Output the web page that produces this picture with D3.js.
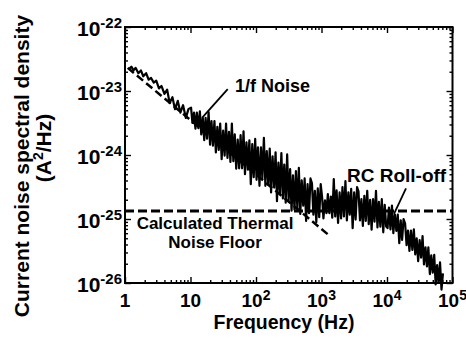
<!DOCTYPE html>
<html><head><meta charset="utf-8">
<script src="https://cdn.jsdelivr.net/npm/d3@7"></script>
<style>
body{margin:0;background:#fff}
svg{display:block}
text{font-family:"Liberation Sans",Arial,Helvetica,sans-serif;font-weight:bold;fill:#000}
</style>
</head><body>
<svg id="c" width="466" height="341"></svg>
<script>
// ---------- data ----------
const freq = [
  1.15,1.25,1.35,1.45,1.6,1.75,1.9,2.1,2.3,2.5,2.75,3.0,3.3,3.6,4.0,4.4,4.8,5.3,5.8,6.4,7.0,7.7,8.5,9.3,
  10.2,10.7,11.3,11.9,12.5,13.2,13.9,14.6,15.4,16.2,17.0,17.9,18.9,19.9,20.9,22.0,23.2,24.4,25.7,27.0,28.4,29.9,31.5,33.2,34.9,36.7,38.7,40.7,42.8,45.1,47.4,49.9,52.6,55.3,58.2,61.3,64.5,67.9,71.5,75.2,79.2,83.3,87.7,92.3,97.2,
  102,107,113,119,125,132,139,146,154,162,170,179,189,199,209,220,232,244,257,270,284,299,315,332,349,367,387,407,428,451,474,499,526,553,582,613,645,679,715,752,792,833,877,923,972,
  1020,1070,1130,1190,1250,1320,1390,1460,1540,1620,1700,1790,1890,1990,2090,2200,2320,2440,2570,2700,2840,2990,3150,3320,3490,3670,3870,4070,4280,4510,4740,4990,5260,5530,5820,6130,6450,6790,7150,7520,7920,8330,8770,9230,9720,
  10200,10700,11300,11900,12500,13200,13900,14600,15400,16200,17000,17900,18900,19900,20900,22000,23200,24400,25700,27000,28400,29900,31500,33200,34900,36700,38700,40700,42800,45100,47400,49900,52600,55300,58200,61300,64500,67900,71500
];
const psd = [
  2.2e-23,2.4e-23,2.1e-23,2.3e-23,1.9e-23,2.1e-23,1.7e-23,1.9e-23,1.5e-23,1.6e-23,1.35e-23,1.45e-23,1.1e-23,1.2e-23,9.0e-24,1.05e-23,6.5e-24,8.0e-24,5.2e-24,7.0e-24,4.6e-24,6.0e-24,3.8e-24,5.2e-24,
  5.5e-24,3.16e-24,4.6e-24,2.57e-24,4.6e-24,2.63e-24,4.8e-24,2.1e-24,3.8e-24,1.7e-24,3.8e-24,1.8e-24,4.7e-24,1.45e-24,3.4e-24,1.4e-24,3.4e-24,1.1e-24,2.75e-24,1.2e-24,3.1e-24,8.6e-25,2.4e-24,9.8e-25,3.1e-24,9.0e-25,2.3e-24,7.8e-25,3.1e-24,8.0e-25,2.1e-24,6.1e-25,1.74e-24,6.2e-25,2.04e-24,6.2e-25,2.34e-24,5.0e-25,1.58e-24,5.9e-25,1.7e-24,3.5e-25,1.48e-24,4.5e-25,1.78e-24,
  4.1e-25,1.32e-24,3.3e-25,1.32e-24,4.3e-25,1.86e-24,3.3e-25,1.15e-24,3.4e-25,1.26e-24,2.6e-25,9.5e-25,3.1e-25,1.1e-24,1.9e-25,7.6e-25,2.5e-25,1.07e-24,2.1e-25,7.1e-25,1.8e-25,1.02e-24,1.9e-25,6.0e-25,1.35e-25,4.8e-25,1.4e-25,5.6e-25,1.45e-25,6.3e-25,1.2e-25,4.0e-25,1.62e-25,4.3e-25,9.3e-26,3.5e-25,1.23e-25,4.3e-25,3.6e-25,1.17e-25,2.75e-25,8.9e-26,3.0e-25,1.07e-25,3.5e-25,
  2.24e-25,1.02e-25,1.95e-25,1.23e-25,2.45e-25,1.23e-25,2.24e-25,1.05e-25,4.2e-25,1.1e-25,2.8e-25,8.7e-26,2.6e-25,1.02e-25,3.16e-25,1.1e-25,3.9e-25,9.5e-26,2.6e-25,1.17e-25,2.95e-25,7.2e-26,2.6e-25,9.8e-26,3.16e-25,2.7e-25,9.5e-26,2.04e-25,7.8e-26,2.3e-25,9.3e-26,2.75e-25,8.3e-26,2.0e-25,6.8e-26,2.04e-25,9.1e-26,2.75e-25,7.4e-26,1.86e-25,7.6e-26,2.04e-25,6.2e-26,1.66e-25,7.6e-26,
  7.2e-26,1.51e-25,6.9e-26,1.62e-25,6.0e-26,1.17e-25,6.5e-26,1.17e-25,4.2e-26,9.5e-26,4.7e-26,1.0e-25,8.5e-26,3.9e-26,6.6e-26,3.16e-26,6.6e-26,3.3e-26,6.9e-26,2.8e-26,5.0e-26,2.2e-26,4.7e-26,2.5e-26,5.4e-26,1.95e-26,3.6e-26,1.82e-26,3.6e-26,1.38e-26,2.7e-26,1.45e-26,2.75e-26,9.5e-27,1.9e-26,1.0e-26,2.1e-26,7.9e-27,1.41e-26
];
// 1/f fit line (dashed)
const fitFreq = [1.1, 1350];
const fitPsd  = [2.3e-23, 5.4e-26];
// calculated thermal noise floor (dashed)
const floorFreq = [1, 1e5];
const floorPsd  = [1.33e-25, 1.33e-25];

// ticks
const xTicks = [1, 10, 100, 1000, 10000, 100000];
const xTickBase = ["1", "10", "10", "10", "10", "10"];
const xTickExp  = ["", "", "2", "3", "4", "5"];
const yTicks = [1e-26, 1e-25, 1e-24, 1e-23, 1e-22];
const yTickBase = ["10", "10", "10", "10", "10"];
const yTickExp  = ["-26", "-25", "-24", "-23", "-22"];

// annotations (data coordinates)
const annoText  = ["1/f Noise", "RC Roll-off"];
const annoTextF = [48, 2450];
const annoTextP = [9.6e-24, 3.8e-25];
const leaderF1 = [37, 19500], leaderP1 = [1.07e-23, 3.0e-25];
const leaderF2 = [15, 12800], leaderP2 = [3.8e-24, 1.2e-25];
const floorLabel = ["Calculated Thermal", "Noise Floor"];
const floorLabelF = 23.7;
const floorLabelP = [7.0e-26, 3.5e-26];

// ---------- drawing ----------
const svg = d3.select("#c");
const L = 125, R = 452.5, T = 27, B = 283;
const x = d3.scaleLog().domain([1, 1e5]).range([L, R]);
const y = d3.scaleLog().domain([1e-26, 1e-22]).range([B, T]);

const minorX = [], minorY = [];
for (let d = 0; d < 5; d++) for (let m = 2; m < 10; m++) minorX.push(m * Math.pow(10, d));
for (let d = -26; d < -22; d++) for (let m = 2; m < 10; m++) minorY.push(+(m + "e" + d));

function axisG(fn, scale, tr, vals, size) {
  svg.append("g").attr("transform", tr)
    .call(fn(scale).tickValues(vals).tickSizeInner(size).tickSizeOuter(0).tickFormat(""))
    .call(g => g.select(".domain").remove())
    .call(g => g.selectAll("line").attr("stroke", "#000").attr("stroke-width", 1.4));
}
axisG(d3.axisBottom, x, `translate(0,${B})`, xTicks, -6);
axisG(d3.axisBottom, x, `translate(0,${B})`, minorX, -3);
axisG(d3.axisTop, x, `translate(0,${T})`, xTicks, -6);
axisG(d3.axisTop, x, `translate(0,${T})`, minorX, -3);
axisG(d3.axisLeft, y, `translate(${L},0)`, yTicks, -6);
axisG(d3.axisLeft, y, `translate(${L},0)`, minorY, -3);
axisG(d3.axisRight, y, `translate(${R},0)`, yTicks, -6);
axisG(d3.axisRight, y, `translate(${R},0)`, minorY, -3);

const line = d3.line().x(d => x(d[0])).y(d => y(d[1]));

// 1/f fit (under the measured trace)
svg.append("path").datum(fitFreq.map((f, i) => [f, fitPsd[i]]))
  .attr("d", line).attr("fill", "none").attr("stroke", "#000")
  .attr("stroke-width", 2.5).attr("stroke-dasharray", "8,4");

// thermal floor
svg.append("path").datum(floorFreq.map((f, i) => [f, floorPsd[i]]))
  .attr("d", line).attr("fill", "none").attr("stroke", "#000")
  .attr("stroke-width", 3).attr("stroke-dasharray", "9,4");

// measured spectrum
svg.append("path").datum(freq.map((f, i) => [f, psd[i]]))
  .attr("d", line).attr("fill", "none").attr("stroke", "#000")
  .attr("stroke-width", 2.2).attr("stroke-linejoin", "round");

// frame
svg.append("rect").attr("x", L).attr("y", T).attr("width", R - L).attr("height", B - T)
  .attr("fill", "none").attr("stroke", "#000").attr("stroke-width", 2);

// tick labels
xTicks.forEach((v, i) => {
  const t = svg.append("text").attr("x", x(v)).attr("y", 307)
    .attr("text-anchor", "middle").style("font-size", "19px");
  t.append("tspan").text(xTickBase[i]);
  if (xTickExp[i]) t.append("tspan").attr("dy", -7).style("font-size", "14px").text(xTickExp[i]);
});
yTicks.forEach((v, i) => {
  const t = svg.append("text").attr("x", 122).attr("y", y(v) + 9)
    .attr("text-anchor", "end").style("font-size", "21px");
  t.append("tspan").text(yTickBase[i]);
  t.append("tspan").attr("dy", -8).style("font-size", "15px").text(yTickExp[i]);
});

// axis titles
svg.append("text").attr("x", 284).attr("y", 329).attr("text-anchor", "middle")
  .style("font-size", "19.5px").text("Frequency (Hz)");
svg.append("text").attr("transform", "translate(29,166) rotate(-90)")
  .attr("text-anchor", "middle").style("font-size", "21px").text("Current noise spectral density");
const yt2 = svg.append("text").attr("transform", "translate(51,148) rotate(-90)")
  .attr("text-anchor", "middle").style("font-size", "21px");
yt2.append("tspan").text("(A");
yt2.append("tspan").attr("dy", -8).style("font-size", "14px").text("2");
yt2.append("tspan").attr("dy", 8).text("/Hz)");

// annotations
annoText.forEach((s, i) => {
  svg.append("text").attr("x", x(annoTextF[i])).attr("y", y(annoTextP[i]))
    .style("font-size", i === 0 ? "18px" : "19px").text(s);
  svg.append("line")
    .attr("x1", x(leaderF1[i])).attr("y1", y(leaderP1[i]))
    .attr("x2", x(leaderF2[i])).attr("y2", y(leaderP2[i]))
    .attr("stroke", "#000").attr("stroke-width", 1.8);
});
floorLabel.forEach((s, i) => {
  svg.append("text").attr("x", x(floorLabelF)).attr("y", y(floorLabelP[i]))
    .attr("text-anchor", "middle").style("font-size", "17px").text(s);
});
</script>
</body></html>
